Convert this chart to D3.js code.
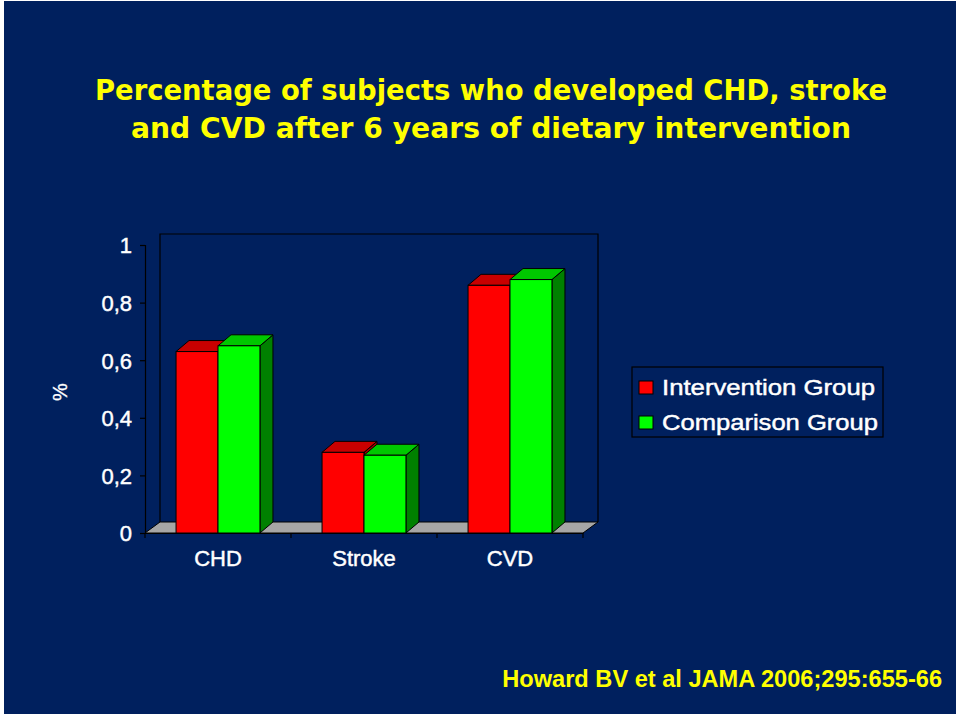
<!DOCTYPE html>
<html>
<head>
<meta charset="utf-8">
<script src="https://cdn.jsdelivr.net/npm/d3@7"></script>
<style>
  html, body { margin: 0; padding: 0; background: #ffffff; }
  svg { display: block; }
</style>
</head>
<body>
<svg id="chart" width="960" height="716"></svg>
<script>
// ---- data ----
const categories = ["CHD", "Stroke", "CVD"];
const seriesNames = ["Intervention Group", "Comparison Group"];
const intervention = [0.63, 0.28, 0.86];
const comparison = [0.65, 0.27, 0.88];
const yTicks = [0, 0.2, 0.4, 0.6, 0.8, 1];
const titleLines = ["Percentage of subjects who developed CHD, stroke",
                    "and CVD after 6 years of dietary intervention"];
const citation = "Howard BV et al JAMA 2006;295:655-66";
const yLabel = "%";

const seriesValues = [intervention, comparison];
const frontColors = ["#ff0000", "#00ff00"];
const topColors = ["#c80000", "#00c800"];
const sideColors = ["#a00000", "#008000"];

const svg = d3.select("#chart");
const bg = "#00205e";
const labelFont = "'Liberation Sans', Arial, sans-serif";

// slide background
svg.append("rect").attr("x", 4).attr("y", 1).attr("width", 952).attr("height", 713)
  .attr("fill", bg);

// scales
const x = d3.scaleBand().domain(categories).range([145, 583]).paddingInner(0).paddingOuter(0);
const xs = d3.scaleBand().domain(seriesNames).range([0, x.bandwidth()]).paddingInner(0).paddingOuter(0.74);
const y = d3.scaleLinear().domain([0, 1]).range([533, 245]);

const DX = 15, DY = -11;   // wall depth
const BDX = 13, BDY = -11; // bar depth

const g = svg.append("g");

// back wall lines
const [x0, x1] = x.range();
g.append("path")
  .attr("d", `M${x0 + DX},${y(0) + DY} L${x0 + DX},${y(1) + DY} L${x1 + DX},${y(1) + DY} L${x1 + DX},${y(0) + DY}`)
  .attr("fill", "none").attr("stroke", "#000").attr("stroke-width", 1.2);

// floor
g.append("path")
  .attr("d", `M${x0},${y(0)} L${x0 + DX},${y(0) + DY} L${x1 + DX},${y(0) + DY} L${x1},${y(0)} Z`)
  .attr("fill", "#a6a6a6").attr("stroke", "#000").attr("stroke-width", 1);

// bars
categories.forEach((c, ci) => {
  seriesNames.forEach((s, si) => {
    const v = seriesValues[si][ci];
    const bx = x(c) + xs(s);
    const bw = xs.bandwidth();
    const top = y(v), bot = y(0);
    const bar = g.append("g");
    bar.append("path")
      .attr("d", `M${bx + bw},${bot} L${bx + bw + BDX},${bot + BDY} L${bx + bw + BDX},${top + BDY} L${bx + bw},${top} Z`)
      .attr("fill", sideColors[si]).attr("stroke", "#000").attr("stroke-width", 1);
    bar.append("path")
      .attr("d", `M${bx},${top} L${bx + BDX},${top + BDY} L${bx + bw + BDX},${top + BDY} L${bx + bw},${top} Z`)
      .attr("fill", topColors[si]).attr("stroke", "#000").attr("stroke-width", 1);
    bar.append("rect")
      .attr("x", bx).attr("y", top).attr("width", bw).attr("height", bot - top)
      .attr("fill", frontColors[si]).attr("stroke", "#000").attr("stroke-width", 1);
  });
});

// y axis
const yAxis = d3.axisLeft(y).tickValues(yTicks).tickSize(5).tickPadding(8)
  .tickFormat(d => d === 0 ? "0" : d === 1 ? "1" : d3.format(".1f")(d).replace(".", ","));
const ya = g.append("g").attr("transform", `translate(${x0},0)`).call(yAxis);
ya.select(".domain").attr("stroke", "#000").attr("stroke-width", 1.2);
ya.selectAll(".tick line").attr("stroke", "#000").attr("stroke-width", 1.2);
ya.selectAll(".tick text").attr("fill", "#fff").attr("font-family", labelFont)
  .attr("font-size", 22).attr("dy", "0.36em")
  .attr("stroke", "#fff").attr("stroke-width", 0.45);

// x axis
const xAxis = d3.axisBottom(x).tickSize(0).tickPadding(0).tickFormat(() => "");
const xa = g.append("g").attr("transform", `translate(0,${y(0)})`).call(xAxis);
xa.select(".domain").attr("stroke", "#000").attr("stroke-width", 1.2);
xa.selectAll(".tick").remove();
const bounds = categories.map(c => x(c)).concat([x1]);
xa.selectAll("line.bt").data(bounds).enter().append("line")
  .attr("x1", d => d).attr("x2", d => d).attr("y1", 0).attr("y2", 5)
  .attr("stroke", "#000").attr("stroke-width", 1.2);
xa.selectAll("text.cat").data(categories).enter().append("text")
  .attr("x", d => x(d) + x.bandwidth() / 2).attr("y", 33)
  .attr("text-anchor", "middle").attr("fill", "#fff")
  .attr("font-family", labelFont).attr("font-size", 22)
  .attr("stroke", "#fff").attr("stroke-width", 0.45)
  .text(d => d);

// y label
svg.append("text").attr("transform", "translate(67,392) rotate(-90)")
  .attr("text-anchor", "middle").attr("fill", "#fff")
  .attr("font-family", labelFont).attr("font-size", 20)
  .attr("stroke", "#fff").attr("stroke-width", 0.3)
  .text(yLabel);

// legend
const lg = svg.append("g");
lg.append("rect").attr("x", 632).attr("y", 367).attr("width", 251).attr("height", 70)
  .attr("fill", bg).attr("stroke", "#000").attr("stroke-width", 1.2);
seriesNames.forEach((s, i) => {
  const yy = 381 + i * 35;
  lg.append("rect").attr("x", 639).attr("y", yy).attr("width", 14).attr("height", 13)
    .attr("fill", frontColors[i]).attr("stroke", "#000").attr("stroke-width", 1);
  lg.append("text").attr("x", 662).attr("y", yy + 14)
    .attr("fill", "#fff").attr("font-family", labelFont)
    .attr("font-size", 22).attr("textLength", i === 0 ? 213 : 216).attr("lengthAdjust", "spacingAndGlyphs")
    .attr("stroke", "#fff").attr("stroke-width", 0.45)
    .text(s);
});

// title
const titleFont = "'DejaVu Sans', sans-serif";
const titleLens = [792, 720];
titleLines.forEach((t, i) => {
  svg.append("text").attr("x", 491).attr("y", 100 + i * 38)
    .attr("text-anchor", "middle").attr("fill", "#ffff00")
    .attr("font-family", titleFont).attr("font-weight", "bold").attr("font-size", 29)
    .attr("textLength", titleLens[i]).attr("lengthAdjust", "spacingAndGlyphs")
    .text(t);
});

// citation
svg.append("text").attr("x", 942).attr("y", 687).attr("text-anchor", "end")
  .attr("fill", "#ffff00").attr("font-family", labelFont).attr("font-weight", "bold")
  .attr("font-size", 23.6)
  .text(citation);
</script>
</body>
</html>
